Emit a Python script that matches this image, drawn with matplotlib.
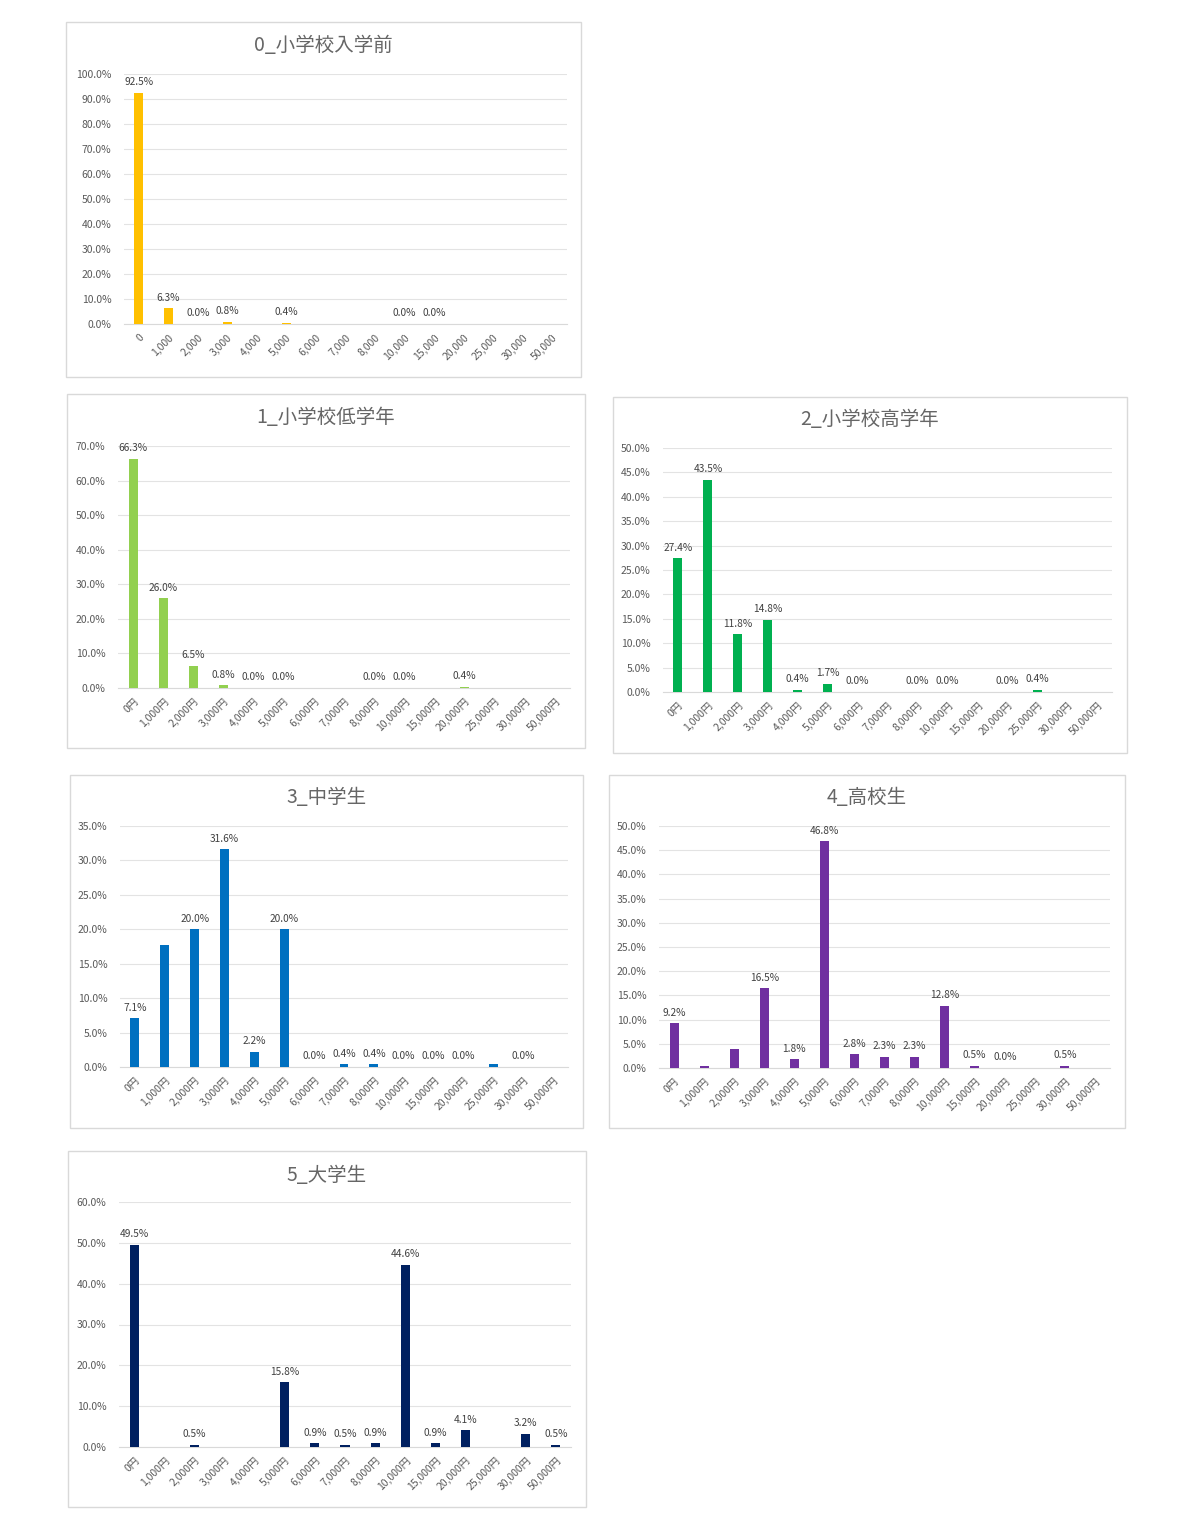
import matplotlib.pyplot as plt
from matplotlib.patches import Rectangle
from matplotlib.ticker import FuncFormatter

plt.rcParams['font.family'] = ['Noto Sans CJK JP', 'DejaVu Sans']

# 金額カテゴリ
amounts = ['0', '1,000', '2,000', '3,000', '4,000', '5,000', '6,000', '7,000',
           '8,000', '10,000', '15,000', '20,000', '25,000', '30,000', '50,000']
amounts_yen = [a + '円' for a in amounts]

titles = ['0_小学校入学前', '1_小学校低学年', '2_小学校高学年',
          '3_中学生', '4_高校生', '5_大学生']
colors = ['#FFC000', '#92D050', '#00B050', '#0070C0', '#7030A0', '#002060']

# 各グループの割合 (%)
v0 = [92.5, 6.3, 0.0, 0.8, 0.0, 0.4, 0.0, 0.0, 0.0, 0.0, 0.0, 0.0, 0.0, 0.0, 0.0]
v1 = [66.3, 26.0, 6.5, 0.8, 0.0, 0.0, 0.0, 0.0, 0.0, 0.0, 0.0, 0.4, 0.0, 0.0, 0.0]
v2 = [27.4, 43.5, 11.8, 14.8, 0.4, 1.7, 0.0, 0.0, 0.0, 0.0, 0.0, 0.0, 0.4, 0.0, 0.0]
v3 = [7.1, 17.7, 20.0, 31.6, 2.2, 20.0, 0.0, 0.4, 0.4, 0.0, 0.0, 0.0, 0.4, 0.0, 0.0]
v4 = [9.2, 0.5, 4.0, 16.5, 1.8, 46.8, 2.8, 2.3, 2.3, 12.8, 0.5, 0.0, 0.0, 0.5, 0.0]
v5 = [49.5, 0.0, 0.5, 0.0, 0.0, 15.8, 0.9, 0.5, 0.9, 44.6, 0.9, 4.1, 0.0, 3.2, 0.5]
values = [v0, v1, v2, v3, v4, v5]

# データラベルが表示されているか (1 = 表示)
l0 = [1, 1, 1, 1, 0, 1, 0, 0, 0, 1, 1, 0, 0, 0, 0]
l1 = [1, 1, 1, 1, 1, 1, 0, 0, 1, 1, 0, 1, 0, 0, 0]
l2 = [1, 1, 1, 1, 1, 1, 1, 0, 1, 1, 0, 1, 1, 0, 0]
l3 = [1, 0, 1, 1, 1, 1, 1, 1, 1, 1, 1, 1, 0, 1, 0]
l4 = [1, 0, 0, 1, 1, 1, 1, 1, 1, 1, 1, 1, 0, 1, 0]
l5 = [1, 0, 1, 0, 0, 1, 1, 1, 1, 1, 1, 1, 0, 1, 1]
shown = [l0, l1, l2, l3, l4, l5]

ymax = [100, 70, 50, 35, 50, 60]
ystep = [10, 10, 5, 5, 5, 10]

# レイアウト (ピクセル)
boxes = [(66, 22, 581, 377), (67, 394, 585, 748), (613, 397, 1127, 753),
         (70, 775, 583, 1128), (609, 775, 1125, 1128), (68, 1151, 586, 1507)]
plots = [(124, 74, 567, 324), (118, 446, 570, 688), (663, 448, 1112, 692),
         (120, 826, 568, 1067), (659, 826, 1110, 1068), (119, 1202, 571, 1447)]
title_y = [45, 418, 420, 798, 798, 1175]

W, H = 1200, 1530
fig = plt.figure(figsize=(12, 15.3), dpi=100)

for i in range(6):
    bx0, by0, bx1, by1 = boxes[i]
    fig.add_artist(Rectangle((bx0 / W, 1 - by1 / H), (bx1 - bx0) / W, (by1 - by0) / H,
                             transform=fig.transFigure, fill=False,
                             edgecolor='#D9D9D9', linewidth=1))
    fig.text((bx0 + bx1) / 2 / W, 1 - title_y[i] / H, titles[i], ha='center',
             va='center', fontsize=14, color='#666666')

    px0, py0, px1, py1 = plots[i]
    ax = fig.add_axes([px0 / W, 1 - py1 / H, (px1 - px0) / W, (py1 - py0) / H])
    x = range(len(amounts))
    ax.bar(x, values[i], width=0.3, color=colors[i], zorder=3)
    ax.set_xlim(-0.5, len(amounts) - 0.5)
    ax.set_ylim(0, ymax[i])
    ax.set_yticks(range(0, ymax[i] + 1, ystep[i]))
    ax.yaxis.set_major_formatter(FuncFormatter(lambda v, p: f'{v:.1f}%'))
    ax.grid(axis='y', color='#E3E3E3', linewidth=0.8, zorder=0)
    for s in ['top', 'right', 'left']:
        ax.spines[s].set_visible(False)
    ax.spines['bottom'].set_color('#D9D9D9')
    ax.tick_params(axis='y', length=0, labelsize=7.5, colors='#595959', pad=9)
    ax.tick_params(axis='x', length=0, labelsize=7.5, colors='#595959', pad=6)
    ax.set_xticks(list(x))
    ax.set_xticklabels(amounts if i == 0 else amounts_yen, rotation=45,
                       ha='right', va='top', rotation_mode='anchor')
    for j, v in enumerate(values[i]):
        if shown[i][j]:
            ax.annotate(f'{v:.1f}%', (j, v), xytext=(0, 4), textcoords='offset points',
                        ha='center', va='bottom', fontsize=7.3, color='#404040')

fig.savefig('out.png', dpi=100, facecolor='white')
